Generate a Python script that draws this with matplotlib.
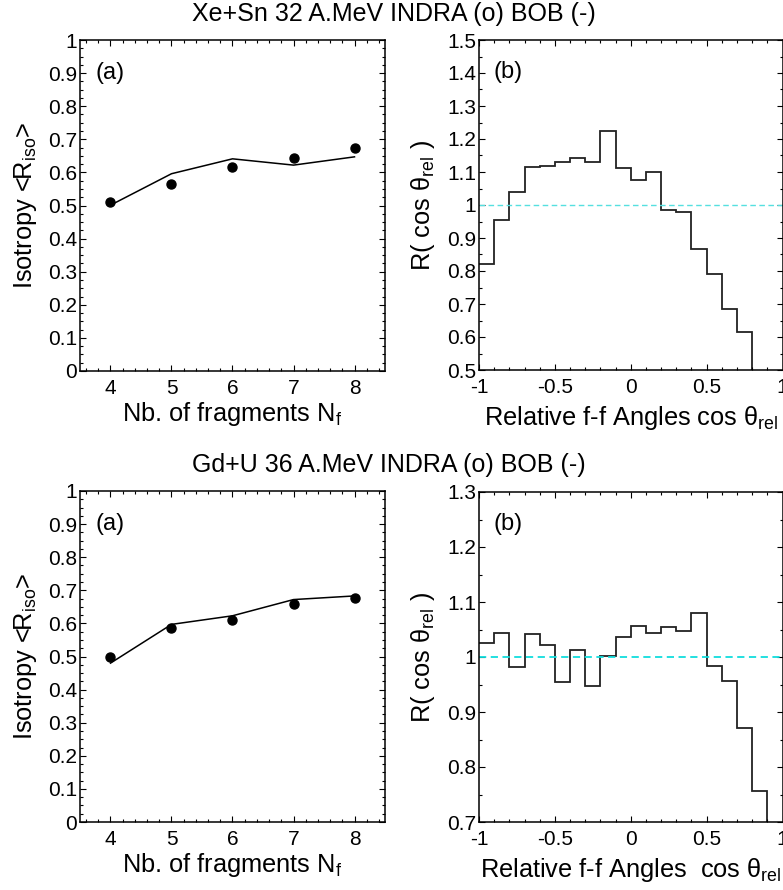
import numpy as np
import matplotlib
matplotlib.use("Agg")
import matplotlib.pyplot as plt
from matplotlib.ticker import MultipleLocator

plt.rcParams['font.family'] = ['Liberation Sans', 'DejaVu Sans']
plt.rcParams['mathtext.fontset'] = 'custom'
plt.rcParams['mathtext.rm'] = 'Liberation Sans'
plt.rcParams['mathtext.it'] = 'Liberation Sans:italic'
plt.rcParams['mathtext.default'] = 'regular'

# ---------------- data ----------------
nf = [4, 5, 6, 7, 8]
xesn_indra = [0.510, 0.566, 0.617, 0.644, 0.674]
xesn_bob = [0.501, 0.596, 0.641, 0.622, 0.647]
gdu_indra = [0.499, 0.585, 0.611, 0.659, 0.678]
gdu_bob = [0.480, 0.597, 0.623, 0.672, 0.683]

cos_edges = [-1.0, -0.9, -0.8, -0.7, -0.6, -0.5, -0.4, -0.3, -0.2, -0.1, 0.0,
             0.1, 0.2, 0.3, 0.4, 0.5, 0.6, 0.7, 0.8, 0.9, 1.0]
xesn_R = [0.822, 0.956, 1.039, 1.115, 1.117, 1.129, 1.141, 1.129, 1.223, 1.111,
          1.076, 1.099, 0.984, 0.979, 0.867, 0.791, 0.684, 0.616, 0.45, 0.40]
gdu_R = [1.025, 1.044, 0.981, 1.041, 1.021, 0.954, 1.012, 0.947, 1.002, 1.036,
         1.057, 1.043, 1.055, 1.047, 1.080, 0.984, 0.956, 0.871, 0.757, 0.60]

title_top = "Xe+Sn 32 A.MeV INDRA (o) BOB (-)"
title_bot = "Gd+U 36 A.MeV INDRA (o) BOB (-)"

W, H = 783, 890
fig = plt.figure(figsize=(W / 100, H / 100), dpi=100)


def px_axes(l, t, r, b):
    return fig.add_axes([l / W, 1 - b / H, (r - l) / W, (b - t) / H])


TICK_FS = 15
LAB_FS = 18.3


def style(ax):
    for s in ax.spines.values():
        s.set_linewidth(1.1)
    ax.tick_params(which='both', direction='in', top=True, right=True,
                   labelsize=TICK_FS, width=0.8)
    ax.tick_params(which='major', length=4)
    ax.tick_params(which='minor', length=2)
    ax.tick_params(axis='y', pad=2)
    ax.tick_params(axis='x', pad=6)


def fmt(v):
    s = ('%.2f' % v).rstrip('0').rstrip('.')
    return s


def left_panel(ax, ind, bob):
    ax.plot(nf, bob, color='black', lw=1.1)
    ax.plot(nf, ind, 'o', color='black', ms=6.5)
    ax.set_xlim(3.5, 8.5)
    ax.set_ylim(0, 1)
    ax.xaxis.set_major_locator(MultipleLocator(1))
    ax.xaxis.set_minor_locator(MultipleLocator(0.2))
    ax.yaxis.set_minor_locator(MultipleLocator(0.025))
    yt = np.round(np.arange(0, 1.01, 0.1), 2)
    ax.set_yticks(yt)
    ax.set_yticklabels([fmt(v) for v in yt])
    style(ax)
    ax.text(0.05, 0.935, '(a)', transform=ax.transAxes, fontsize=17,
            va='top', ha='left')
    ax.set_xlabel(r'Nb. of fragments N$_{\rm f}$', fontsize=LAB_FS, va='baseline')
    ax.xaxis.set_label_coords(0.5, -0.152)
    ax.set_ylabel(r'Isotropy <R$_{\rm iso}$>', fontsize=LAB_FS, va='center')
    ax.yaxis.set_label_coords(-0.18, 0.5)


def right_panel(ax, R, ylo, yhi, xlabel, dash_color, dash_lw):
    ax.axhline(1.0, color=dash_color, ls='--', lw=dash_lw, dashes=(4, 2.5))
    ax.stairs(R, cos_edges, color='#222222', lw=1.3, baseline=None)
    ax.set_xlim(-1, 1)
    ax.set_ylim(ylo, yhi)
    ax.xaxis.set_minor_locator(MultipleLocator(0.1))
    ax.yaxis.set_minor_locator(MultipleLocator(0.05))
    yt = np.round(np.arange(ylo, yhi + 0.001, 0.1), 2)
    ax.set_yticks(yt)
    ax.set_yticklabels([fmt(v) for v in yt])
    xt = [-1, -0.5, 0, 0.5, 1]
    ax.set_xticks(xt)
    ax.set_xticklabels(['-1', '-0.5', '0', '0.5', '1'])
    style(ax)
    ax.text(0.047, 0.935, '(b)', transform=ax.transAxes, fontsize=17,
            va='top', ha='left')
    ax.set_xlabel(xlabel, fontsize=LAB_FS, va='baseline')
    ax.xaxis.set_label_coords(0.5, -0.167)
    ax.set_ylabel(r'R( cos θ$_{\rm rel}$ )', fontsize=LAB_FS, va='center')
    ax.yaxis.set_label_coords(-0.185, 0.5)


ax1 = px_axes(80, 40, 385, 371)
ax2 = px_axes(479, 40, 782.5, 370)
ax3 = px_axes(80, 491, 385, 822)
ax4 = px_axes(479, 492, 782.5, 822)

left_panel(ax1, xesn_indra, xesn_bob)
left_panel(ax3, gdu_indra, gdu_bob)
right_panel(ax2, xesn_R, 0.5, 1.5, r'Relative f-f Angles cos θ$_{\rm rel}$',
            '#55e0e0', 1.0)
right_panel(ax4, gdu_R, 0.7, 1.3, r'Relative f-f Angles  cos θ$_{\rm rel}$',
            '#11dddd', 1.3)

fig.text(0.503, 1 - 21 / H, title_top, fontsize=18, ha='center', va='baseline')
fig.text(0.497, 1 - 472 / H, title_bot, fontsize=18, ha='center', va='baseline')

fig.savefig('out.png', dpi=100)
